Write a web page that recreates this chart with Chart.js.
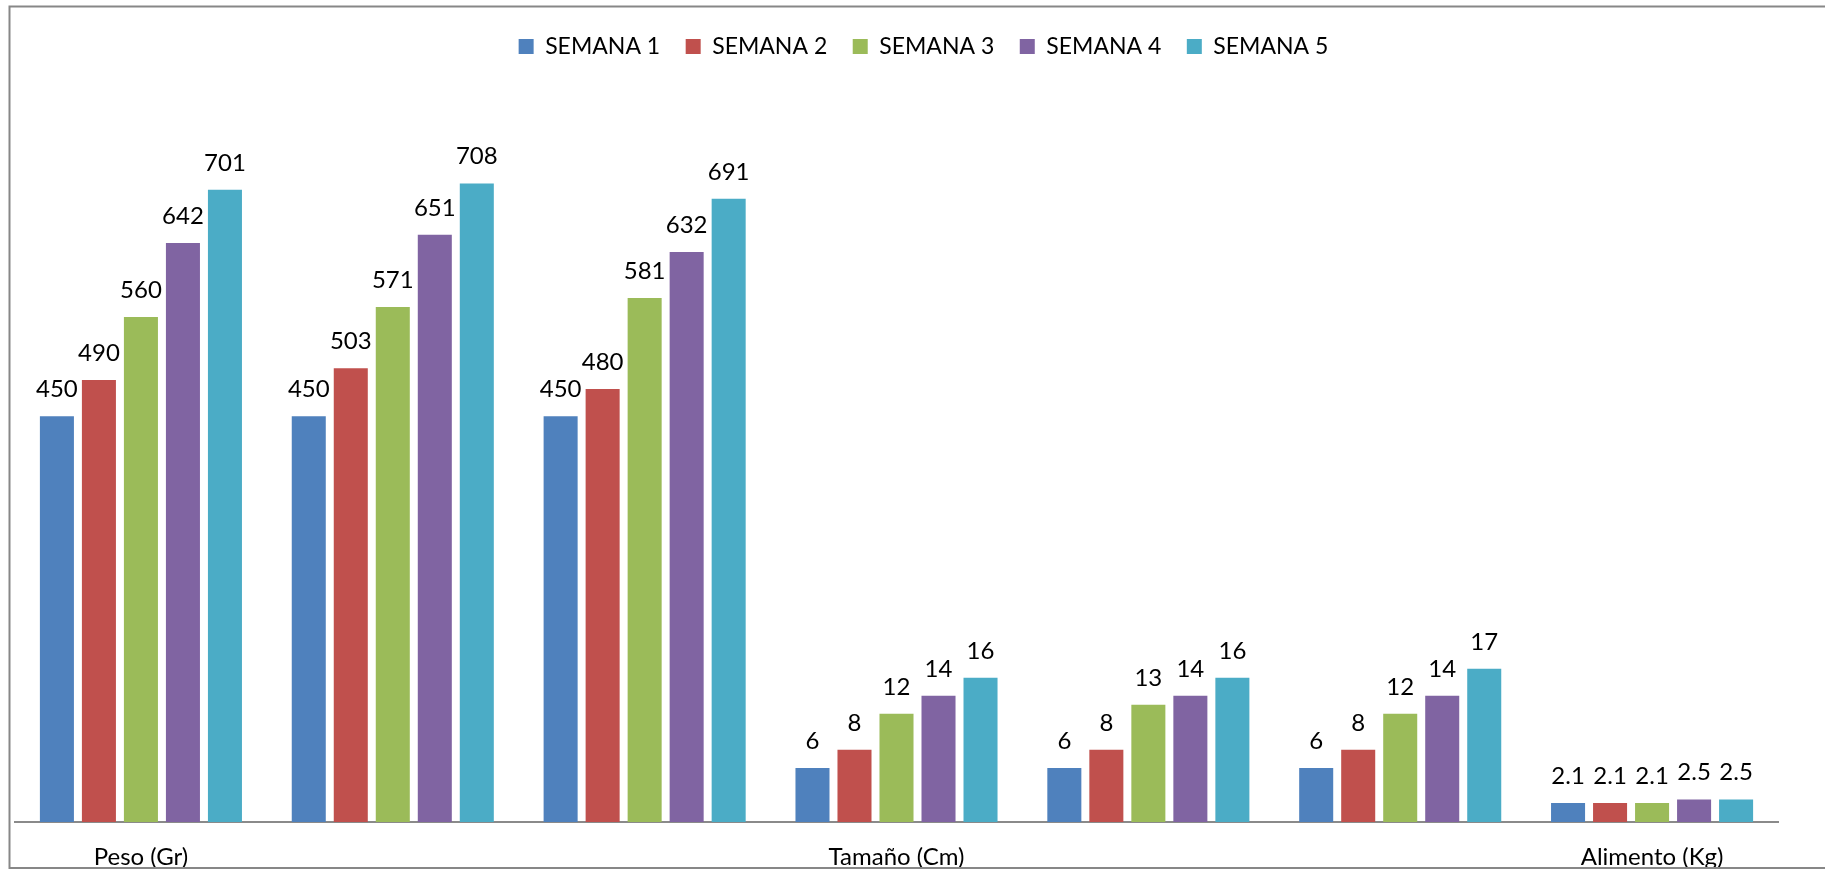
<!DOCTYPE html>
<html>
<head>
<meta charset="utf-8">
<script src="https://cdn.jsdelivr.net/npm/chart.js@4.4.1/dist/chart.umd.min.js"></script>
<style>
  html, body { margin: 0; padding: 0; background: #fff; }
  canvas { display: block; }
</style>
</head>
<body>
<canvas id="chart" width="1825" height="869"></canvas>
<script>
const categories = ["Peso (Gr)", "", "", "Tamaño (Cm)", "", "", "Alimento (Kg)"];
// grams go on the tall axis, cm and kg share the short one
const axisFor = ["y", "y", "y", "y2", "y2", "y2", "y2"];

const weeks = ["SEMANA 1", "SEMANA 2", "SEMANA 3", "SEMANA 4", "SEMANA 5"];
const semana1 = [450, 450, 450, 6, 6, 6, 2.1];
const semana2 = [490, 503, 480, 8, 8, 8, 2.1];
const semana3 = [560, 571, 581, 12, 13, 12, 2.1];
const semana4 = [642, 651, 632, 14, 14, 14, 2.5];
const semana5 = [701, 708, 691, 16, 16, 17, 2.5];
const series = [semana1, semana2, semana3, semana4, semana5];

const colors = ["#4F81BD", "#C0504D", "#9BBB59", "#8064A2", "#4BACC6"];

const FONT = "Lato";
Chart.defaults.font.family = FONT;
Chart.defaults.color = "#000";

function splitFor(values, axis) {
  return values.map((v, i) => (axisFor[i] === axis ? v : null));
}

const datasets = [];
["y", "y2"].forEach(axis => {
  series.forEach((values, s) => {
    datasets.push({
      label: weeks[s],
      data: splitFor(values, axis),
      yAxisID: axis,
      stack: "w" + s,
      backgroundColor: colors[s],
      borderWidth: 0,
      categoryPercentage: 0.834,
      barPercentage: 0.81,
      skipNull: true
    });
  });
});

// value printed above each bar
const valueLabels = {
  id: "valueLabels",
  afterDatasetsDraw(chart) {
    const ctx = chart.ctx;
    ctx.save();
    ctx.font = "24px " + FONT;
    ctx.fillStyle = "#000";
    ctx.textAlign = "center";
    ctx.textBaseline = "alphabetic";
    chart.data.datasets.forEach((ds, i) => {
      chart.getDatasetMeta(i).data.forEach((bar, j) => {
        const v = ds.data[j];
        if (v === null || v === undefined) return;
        ctx.fillText(String(v), bar.x, bar.y - 19);
      });
    });
    ctx.restore();
  }
};

// grey frame round the whole chart, open to the right
const frame = {
  id: "frame",
  afterDraw(chart) {
    const ctx = chart.ctx;
    ctx.save();
    ctx.strokeStyle = "#878787";
    ctx.lineWidth = 2;
    ctx.strokeRect(9.5, 6.5, 1900, 861.5);
    ctx.restore();
  }
};

// nudge the legend row a little to the right of the plot centre
const legendShift = {
  id: "legendShift",
  afterLayout(chart) {
    chart.legend.left += 27;
    chart.legend.right += 27;
  }
};

new Chart(document.getElementById("chart"), {
  type: "bar",
  data: { labels: categories, datasets },
  plugins: [valueLabels, frame, legendShift],
  options: {
    responsive: false,
    animation: false,
    layout: { padding: { top: 9.5, left: 15, right: 47, bottom: 0 } },
    plugins: {
      tooltip: { enabled: false },
      legend: {
        position: "top",
        labels: {
          boxWidth: 15,
          boxHeight: 15,
          padding: 25.5,
          font: { size: 23 },
          filter: item => item.datasetIndex < weeks.length
        }
      }
    },
    scales: {
      x: {
        grid: { display: false, drawTicks: false },
        border: { display: true, color: "#8a8a8a", width: 2 },
        ticks: { padding: 21, font: { size: 24 }, autoSkip: false, maxRotation: 0 },
        afterFit: scale => { scale.height = 47; }
      },
      y: { display: false, min: 0, max: 836, stacked: false },
      y2: { display: false, min: 0, max: 83.6, stacked: false }
    }
  }
});
</script>
</body>
</html>
